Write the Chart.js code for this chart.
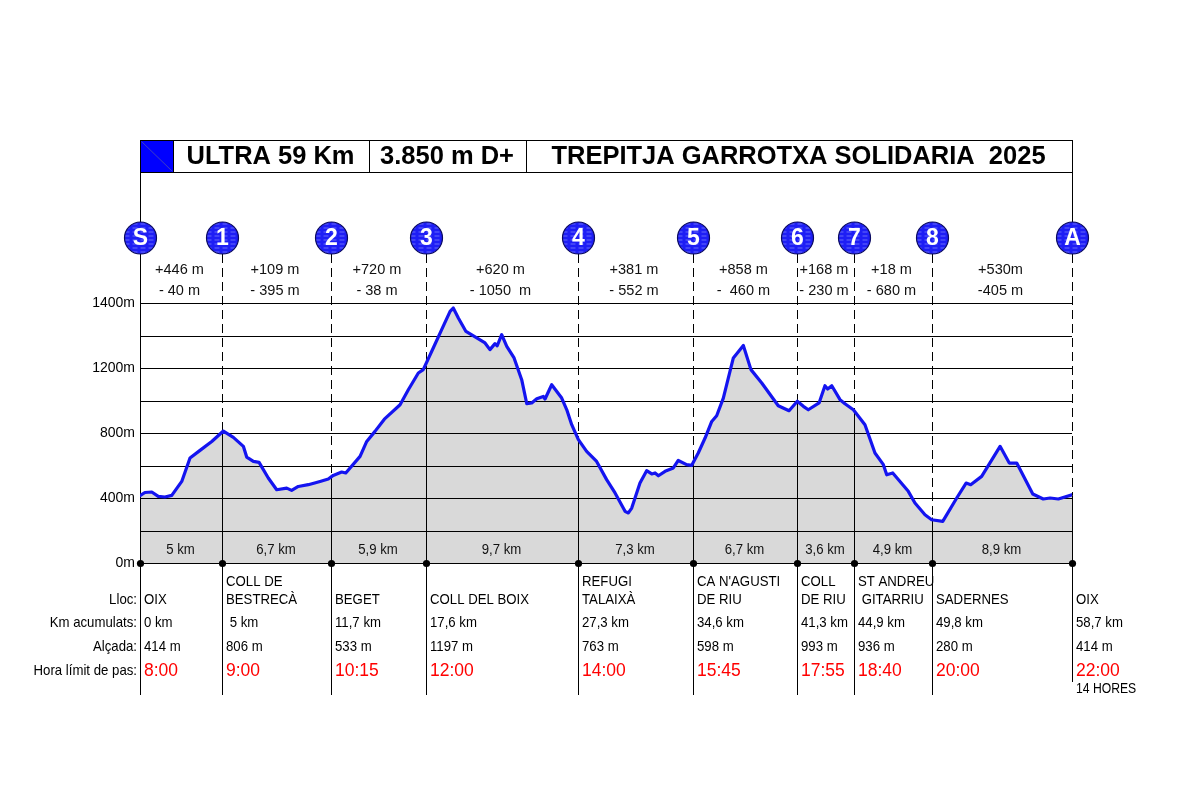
<!DOCTYPE html>
<html>
<head>
<meta charset="utf-8">
<script src="https://cdn.jsdelivr.net/npm/chart.js@4.4.1/dist/chart.umd.min.js"></script>
<style>
  html, body { margin: 0; padding: 0; background: #fff; }
  canvas { display: block; }
</style>
</head>
<body>
<canvas id="perfil" width="1196" height="788"></canvas>
<script>
// elevation profile, km along the route / altitude in m
const profileKm = [0, 0.31, 0.74, 1.15, 1.57, 2.00, 2.63, 3.15, 3.78, 4.52, 5.25, 5.88, 6.51, 6.72, 7.14, 7.50,
  8.08, 8.61, 9.24, 9.55, 9.97, 10.60, 11.34, 11.86, 12.17, 12.70, 12.96, 13.86, 14.28, 14.80, 15.39, 16.38,
  16.90, 17.53, 17.84, 18.47, 19.00, 19.53, 19.73, 20.05, 20.53, 21.21, 21.73, 22.04, 22.36, 22.50, 22.78,
  23.10, 23.56, 24.04, 24.36, 24.67, 24.99, 25.40, 25.51, 25.93, 26.56, 26.88, 27.19, 27.61, 28.13, 28.76,
  29.39, 29.92, 30.55, 30.76, 30.97, 31.49, 31.91, 32.23, 32.44, 32.65, 33.07, 33.59, 33.90, 34.43, 34.75,
  35.16, 35.59, 36.01, 36.32, 36.74, 37.37, 38.00, 38.48, 39.16, 40.20, 40.88, 41.40, 41.78, 42.09, 42.77,
  43.14, 43.31, 43.57, 44.09, 44.40, 44.93, 45.66, 46.29, 46.82, 47.03, 47.41, 48.39, 48.81, 49.44, 49.86,
  50.56, 51.44, 52.03, 52.32, 53.01, 54.17, 54.75, 55.22, 56.23, 56.89, 57.32, 57.84, 58.70];
const profileAlt = [414, 434, 437, 410, 406, 416, 502, 646, 693, 748, 812, 773, 718, 652, 625, 619,
  523, 451, 461, 447, 471, 482, 502, 517, 539, 560, 554, 656, 748, 810, 885, 974,
  1066, 1169, 1190, 1323, 1436, 1548, 1569, 1508, 1425, 1385, 1354, 1313, 1350, 1337, 1405,
  1333, 1262, 1128, 980, 985, 1011, 1025, 1009, 1097, 1015, 943, 851, 759, 687, 625,
  513, 431, 318, 308, 338, 492, 568, 548, 554, 537, 564, 585, 631, 605, 601,
  677, 769, 871, 906, 1015, 1262, 1339, 1190, 1108, 968, 937, 995, 964, 943, 985,
  1091, 1071, 1091, 1005, 980, 943, 851, 677, 605, 543, 554, 441, 369, 297, 266,
  256, 400, 492, 482, 533, 718, 615, 615, 425, 394, 400, 394, 420];

// controls
const cpMarks = ['S', '1', '2', '3', '4', '5', '6', '7', '8', 'A'];
const cpKm = [0, 5.16, 12.03, 18.0, 27.6, 34.8, 41.4, 44.95, 49.86, 58.7]; // where each control sits on the profile
const cpPlace = [['OIX'], ['COLL DE', 'BESTRECÀ'], ['BEGET'], ['COLL DEL BOIX'], ['REFUGI', 'TALAIXÀ'],
  ["CA N'AGUSTI", 'DE RIU'], ['COLL', 'DE RIU'], ['ST ANDREU', ' GITARRIU'], ['SADERNES'], ['OIX']];
const cpKmLabel = ['0 km', ' 5 km', '11,7 km', '17,6 km', '27,3 km', '34,6 km', '41,3 km', '44,9 km', '49,8 km', '58,7 km'];
const cpAlt = [414, 806, 533, 1197, 763, 598, 993, 936, 280, 414];
const cpTime = ['8:00', '9:00', '10:15', '12:00', '14:00', '15:45', '17:55', '18:40', '20:00', '22:00'];

// sections between controls
const segGain = ['+446 m', '+109 m', '+720 m', '+620 m', '+381 m', '+858 m', '+168 m', '+18 m', '+530m'];
const segLoss = ['- 40 m', '- 395 m', '- 38 m', '- 1050  m', '- 552 m', '-  460 m', '- 230 m', '- 680 m', '-405 m'];
const segDist = ['5 km', '6,7 km', '5,9 km', '9,7 km', '7,3 km', '6,7 km', '3,6 km', '4,9 km', '8,9 km'];

const yTicks = [0, 400, 800, 1200, 1600];
const yTickLabels = ['0m', '400m', '800m', '1200m', '1400m'];
const headerCells = ['ULTRA 59 Km', '3.850 m D+', 'TREPITJA GARROTXA SOLIDARIA  2025'];
const rowLabels = ['Lloc:', 'Km acumulats:', 'Alçada:', 'Hora límit de pas:'];

const FONT = '"Liberation Sans", Arial, sans-serif';
const SMALL = '15px ' + FONT;
const SQUEEZE = 0.88; // the original uses a condensed face

function line(ctx, x1, y1, x2, y2) {
  ctx.beginPath();
  ctx.moveTo(x1, y1);
  ctx.lineTo(x2, y2);
  ctx.stroke();
}

function text(ctx, s, x, y, font, color, align, sx) {
  ctx.save();
  ctx.font = font;
  ctx.fillStyle = color;
  ctx.textAlign = align || 'left';
  ctx.textBaseline = 'middle';
  ctx.translate(x, y);
  ctx.scale(sx || 1, 1);
  ctx.fillText(s, 0, 0);
  ctx.restore();
}

const decor = {
  id: 'decor',
  // grid + control lines go over the grey fill but under the blue line
  afterDatasetDraw(chart, args) {
    if (args.index !== 1) return;
    const { ctx, chartArea: a, scales: { x, y } } = chart;
    ctx.save();
    ctx.strokeStyle = '#000';
    ctx.lineWidth = 1;
    y.ticks.forEach(t => {
      const py = Math.round(y.getPixelForValue(t.value)) + 0.5;
      line(ctx, a.left, py, a.right, py);
    });
    cpKm.forEach((k, i) => {
      const px = Math.round(x.getPixelForValue(k)) + 0.5;
      const ground = y.getPixelForValue(cpAlt[i]);
      if (i > 0) {
        ctx.setLineDash([9, 5]);
        line(ctx, px, 254, px, ground);
        ctx.setLineDash([]);
      }
      line(ctx, px, i === 0 ? 172 : ground, px, a.bottom);
    });
    ctx.restore();
  },
  afterDraw(chart) {
    const { ctx, chartArea: a, scales: { x } } = chart;
    const px = cpKm.map(k => Math.round(x.getPixelForValue(k)) + 0.5);
    const last = px.length - 1;
    ctx.save();

    // header
    const top = 140.5, bot = 172.5;
    const cells = [173.5, 369.5, 526.5, px[last]];
    ctx.fillStyle = '#0000ff';
    ctx.fillRect(px[0], top, cells[0] - px[0], bot - top);
    ctx.strokeStyle = '#4040c0';
    ctx.lineWidth = 1;
    line(ctx, px[0] + 1, top + 1, cells[0] - 1, bot - 1);
    ctx.strokeStyle = '#000';
    ctx.strokeRect(px[0], top, px[last] - px[0], bot - top);
    cells.slice(0, 3).forEach(c => line(ctx, c, top, c, bot));
    headerCells.forEach((s, i) => {
      text(ctx, s, (cells[i] + cells[i + 1]) / 2 - 1, 157, 'bold 26px ' + FONT, '#000', 'center', 0.98);
    });

    // frame lines S and A below header
    line(ctx, px[last], bot, px[last], 222);
    line(ctx, px[0], a.bottom, px[0], 695);

    // numbered circles
    px.forEach((cx, i) => {
      const cy = 238, r = 16;
      ctx.beginPath();
      ctx.arc(cx, cy, r, 0, Math.PI * 2);
      ctx.fillStyle = '#1e1ef5';
      ctx.fill();
      ctx.save();
      ctx.clip();
      ctx.strokeStyle = 'rgba(190,200,255,0.45)';
      ctx.lineWidth = 1;
      ctx.setLineDash([5, 3]);
      for (let dy = -14; dy <= 14; dy += 4) line(ctx, cx - r, cy + dy, cx + r, cy + dy);
      ctx.restore();
      ctx.beginPath();
      ctx.arc(cx, cy, r, 0, Math.PI * 2);
      ctx.strokeStyle = '#0a0a60';
      ctx.lineWidth = 1.2;
      ctx.stroke();
      text(ctx, cpMarks[i], cx, cy + 1, 'bold 23px ' + FONT, '#fff', 'center');
    });

    // section gain / loss and distances
    segGain.forEach((s, i) => {
      const mid = (px[i] + px[i + 1]) / 2 - 2;
      text(ctx, s, mid, 270, SMALL, '#111', 'center', 0.97);
      text(ctx, segLoss[i], mid, 291, SMALL, '#111', 'center', 0.97);
      text(ctx, segDist[i], mid + 1, 550, SMALL, '#111', 'center', SQUEEZE);
    });

    // control table
    const rows = [600, 623, 647, 671];
    rowLabels.forEach((s, r) => text(ctx, s, 137, rows[r], SMALL, '#000', 'right', SQUEEZE));
    ctx.strokeStyle = '#000';
    ctx.lineWidth = 1;
    px.forEach((cx, i) => {
      if (i > 0) line(ctx, cx, a.bottom, cx, i === last ? 682 : 695);
      const tx = cx + 3.5;
      const place = cpPlace[i];
      if (place.length === 2) {
        text(ctx, place[0], tx, 582, SMALL, '#000', 'left', SQUEEZE);
        text(ctx, place[1], tx, 600, SMALL, '#000', 'left', SQUEEZE);
      } else {
        text(ctx, place[0], tx, 600, SMALL, '#000', 'left', SQUEEZE);
      }
      text(ctx, cpKmLabel[i], tx, 623, SMALL, '#000', 'left', SQUEEZE);
      text(ctx, cpAlt[i] + ' m', tx, 647, SMALL, '#000', 'left', SQUEEZE);
      text(ctx, cpTime[i], tx, 671, '17.5px ' + FONT, '#ff0000');
      // control dot on the base line
      ctx.beginPath();
      ctx.arc(cx, a.bottom + 0.5, 3.6, 0, Math.PI * 2);
      ctx.fillStyle = '#000';
      ctx.fill();
    });
    text(ctx, '14 HORES', px[last] + 3.5, 689, '14px ' + FONT, '#000', 'left', 0.87);

    ctx.restore();
  }
};

const points = profileKm.map((k, i) => ({ x: k, y: profileAlt[i] }));

new Chart(document.getElementById('perfil'), {
  type: 'line',
  data: {
    datasets: [
      {
        data: points,
        borderColor: '#1414f0',
        borderWidth: 3.2,
        borderJoinStyle: 'round',
        borderCapStyle: 'round',
        pointRadius: 0,
        fill: false,
        tension: 0,
        order: 0
      },
      {
        data: points,
        borderWidth: 0,
        pointRadius: 0,
        fill: 'origin',
        backgroundColor: '#d9d9d9',
        tension: 0,
        order: 1
      }
    ]
  },
  options: {
    responsive: false,
    devicePixelRatio: 1,
    animation: false,
    layout: { padding: { left: 80, right: 124, top: 303, bottom: 225 } },
    plugins: { legend: { display: false }, tooltip: { enabled: false } },
    scales: {
      x: { type: 'linear', min: 0, max: 58.7, display: false },
      y: {
        min: 0,
        max: 1600,
        afterFit: s => { s.width = 60; },
        border: { display: false },
        grid: { display: false, drawTicks: false, tickLength: 0 },
        ticks: {
          stepSize: 200,
          padding: 5,
          color: '#000',
          font: { family: FONT, size: 14 },
          callback: v => {
            const i = yTicks.indexOf(v);
            return i >= 0 ? yTickLabels[i] : '';
          }
        }
      }
    }
  },
  plugins: [decor]
});
</script>
</body>
</html>
